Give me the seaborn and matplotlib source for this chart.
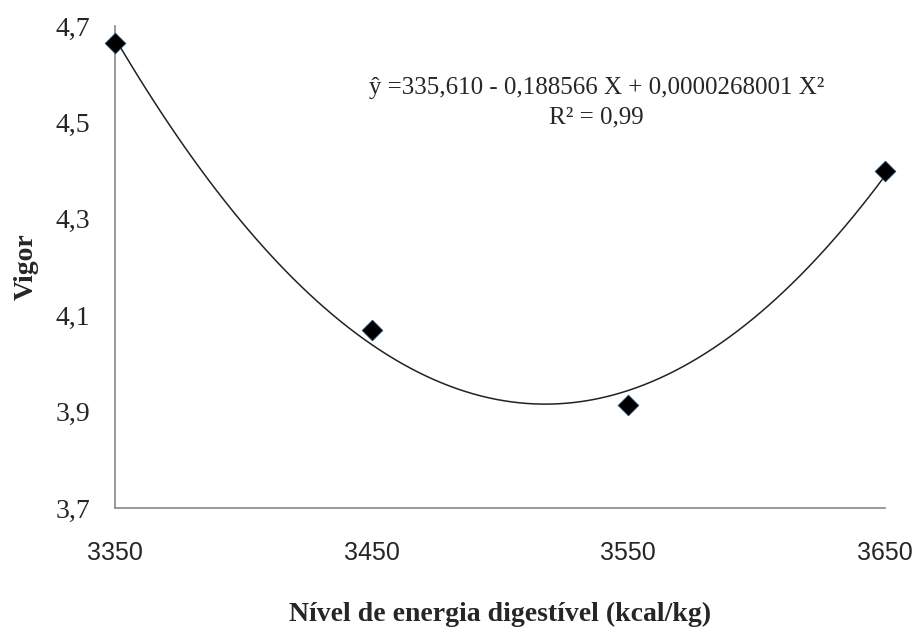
import matplotlib
matplotlib.use("Agg")
import matplotlib.pyplot as plt
import seaborn as sns

# Vigor por nível de energia digestível
energia = [3350, 3450, 3550, 3650]
vigor = [4.665, 4.069, 3.914, 4.399]
x_ticks = [3350, 3450, 3550, 3650]
y_ticks = [3.7, 3.9, 4.1, 4.3, 4.5, 4.7]
equacao = "ŷ =335,610 - 0,188566 X + 0,0000268001 X²"
r2 = "R² = 0,99"

sns.set_style("white")
plt.rcParams['font.family'] = ['Liberation Serif', 'DejaVu Serif']

fig = plt.figure(figsize=(9.17, 6.35), dpi=100)
ax = fig.add_axes([0.1254, 0.2, 0.8396, 0.759])

# curva de tendência polinomial de 2a ordem
sns.regplot(x=energia, y=vigor, order=2, ci=None, scatter=False, ax=ax,
            line_kws={"color": "#222222", "linewidth": 1.1})
sns.scatterplot(x=energia, y=vigor, marker="D", s=110, color="black",
                edgecolor="#1f3f66", linewidth=0.6, ax=ax, zorder=5, clip_on=False)

ax.set_xlim(3350, 3650)
ax.set_ylim(3.7, 4.7)
ax.set_xticks(x_ticks)
ax.set_xticklabels([str(v) for v in x_ticks], fontfamily="Liberation Sans", fontsize=18)
ax.set_yticks(y_ticks)
ax.set_yticklabels([f"{v:.1f}".replace(".", ",") for v in y_ticks], fontsize=20)
ax.tick_params(axis="both", length=0)
ax.tick_params(axis="x", pad=24)
ax.tick_params(axis="y", pad=18)

for s in ["top", "right"]:
    ax.spines[s].set_visible(False)
for s in ["left", "bottom"]:
    ax.spines[s].set_color("#888888")
    ax.spines[s].set_linewidth(1.2)

ax.set_xlabel("Nível de energia digestível (kcal/kg)", fontsize=20, fontweight="bold", labelpad=26)
ax.set_ylabel("Vigor", fontsize=20, fontweight="bold", labelpad=12)

ax.text(0.625, 0.871, equacao, transform=ax.transAxes, ha="center", va="center", fontsize=18)
ax.text(0.625, 0.811, r2, transform=ax.transAxes, ha="center", va="center", fontsize=18)

fig.savefig("out.png", dpi=100)
